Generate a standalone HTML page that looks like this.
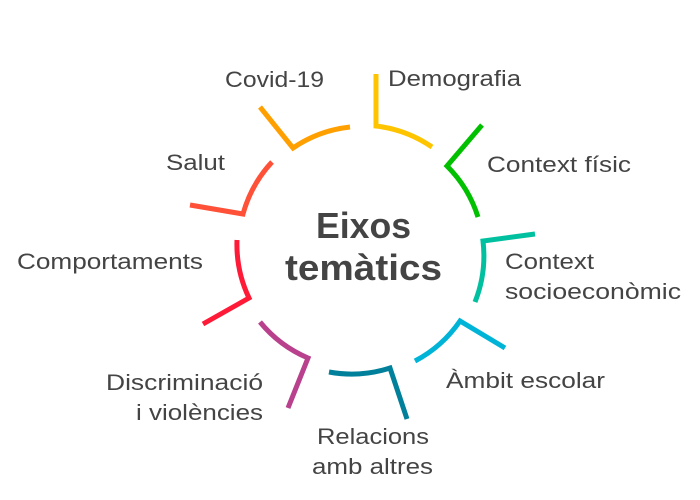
<!DOCTYPE html>
<html><head><meta charset="utf-8"><style>
html,body{margin:0;padding:0;background:#fff;}
svg{display:block;}
text{font-family:"Liberation Sans",sans-serif;fill:#444;font-size:22px;}
.c{font-weight:bold;font-size:36px;}
</style></head><body>
<svg width="700" height="500" viewBox="0 0 700 500" fill="none" stroke-width="5" stroke-linejoin="miter">
<path d="M376 74 L376 126 A125 125 0 0 1 432 147" stroke="#FFC400"/>
<path d="M260 107 L293 148 A125 125 0 0 1 350 127" stroke="#FF9F00"/>
<path d="M482 125 L447 166 A125 125 0 0 1 478 217" stroke="#00C000"/>
<path d="M190 205 L243 214 A125 125 0 0 1 272 162" stroke="#FF5038"/>
<path d="M237 240 A125 125 0 0 0 249 298 L203 324" stroke="#FF1A38"/>
<path d="M535 234 L483 241 A125 125 0 0 1 475 302" stroke="#00C0A0"/>
<path d="M415 361 A125 125 0 0 0 460 321 L505 348" stroke="#00B4D8"/>
<path d="M329 372 A125 125 0 0 0 390 368 L407 419" stroke="#00809A"/>
<path d="M260 322 A125 125 0 0 0 308 358 L288 408" stroke="#B8408C"/>
<g stroke="none">
<text class="c" x="316" y="238" textLength="95" lengthAdjust="spacingAndGlyphs">Eixos</text>
<text class="c" x="285" y="280" textLength="157" lengthAdjust="spacingAndGlyphs">temàtics</text>
<text x="225" y="87" textLength="99" lengthAdjust="spacingAndGlyphs">Covid-19</text>
<text x="388" y="86" textLength="133" lengthAdjust="spacingAndGlyphs">Demografia</text>
<text x="166" y="170" textLength="59" lengthAdjust="spacingAndGlyphs">Salut</text>
<text x="487" y="172" textLength="144" lengthAdjust="spacingAndGlyphs">Context físic</text>
<text x="17" y="269" textLength="186" lengthAdjust="spacingAndGlyphs">Comportaments</text>
<text x="505" y="269" textLength="89" lengthAdjust="spacingAndGlyphs">Context</text>
<text x="505" y="299" textLength="176" lengthAdjust="spacingAndGlyphs">socioeconòmic</text>
<text x="446" y="388" textLength="159" lengthAdjust="spacingAndGlyphs">Àmbit escolar</text>
<text x="106" y="390" textLength="157" lengthAdjust="spacingAndGlyphs">Discriminació</text>
<text x="136" y="420" textLength="127" lengthAdjust="spacingAndGlyphs">i violències</text>
<text x="317" y="444" textLength="112" lengthAdjust="spacingAndGlyphs">Relacions</text>
<text x="312" y="474" textLength="121" lengthAdjust="spacingAndGlyphs">amb altres</text>
</g>
</svg>
</body></html>
